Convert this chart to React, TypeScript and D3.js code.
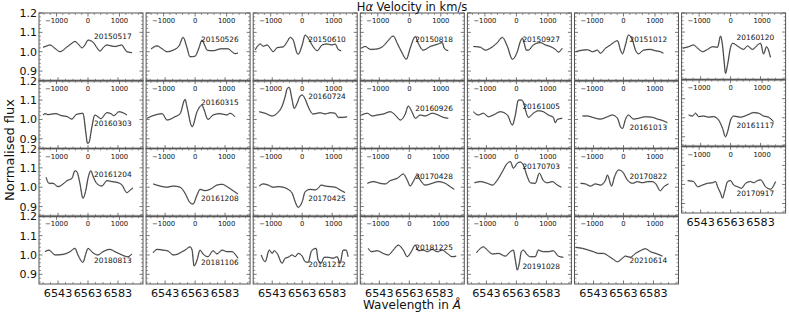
import React from "react";
import * as d3 from "d3";

type P = [number, number];

// wavelength (Å), normalised flux
const S20150517: P[] = [[6533.0,1.023],[6535.6,1.03],[6537.6,1.035],[6541.0,1.017],[6544.3,1.0],[6549.0,1.025],[6551.6,1.04],[6554.3,1.053],[6557.0,1.035],[6559.0,1.02],[6561.0,1.035],[6563.0,1.06],[6566.3,1.05],[6569.0,1.02],[6571.0,1.003],[6573.0,1.02],[6575.6,1.035],[6578.3,1.03],[6581.0,1.027],[6583.0,1.03],[6585.6,1.035],[6587.0,1.02],[6589.0,1.0],[6592.3,0.995]];
const S20150526: P[] = [[6533.6,1.014],[6537.6,1.03],[6541.0,1.015],[6544.3,1.0],[6548.3,1.008],[6552.3,1.03],[6555.0,1.074],[6557.6,1.02],[6559.6,0.974],[6563.0,0.977],[6565.6,1.02],[6567.6,1.06],[6569.6,1.03],[6571.0,1.008],[6575.0,1.005],[6580.3,1.015],[6585.0,1.015],[6587.6,1.0],[6589.6,0.99],[6591.6,0.993]];
const S20150610: P[] = [[6531.6,1.009],[6535.0,1.04],[6537.0,1.028],[6539.6,1.035],[6541.6,1.018],[6543.6,1.0],[6546.3,1.021],[6550.3,1.025],[6553.0,1.052],[6555.0,1.074],[6557.0,1.06],[6559.6,0.992],[6560.3,0.987],[6563.0,1.035],[6565.0,1.086],[6567.0,1.07],[6570.3,1.026],[6573.0,1.005],[6576.3,1.035],[6579.6,1.04],[6583.0,1.035],[6585.0,1.04],[6587.0,1.012],[6589.0,1.005]];
const S20150818: P[] = [[6531.0,1.018],[6533.6,1.027],[6537.0,1.012],[6540.3,1.013],[6545.0,1.025],[6548.3,1.052],[6552.3,1.081],[6555.0,1.043],[6558.3,0.992],[6561.0,0.961],[6563.6,1.018],[6567.0,1.078],[6569.0,1.043],[6572.3,1.008],[6577.0,1.027],[6581.6,1.038],[6585.0,1.047],[6586.3,1.018],[6589.0,1.005]];
const S20150927: P[] = [[6534.3,1.027],[6539.0,1.023],[6542.3,1.008],[6545.6,1.018],[6550.3,1.047],[6553.6,1.074],[6557.0,1.027],[6560.3,0.961],[6563.6,1.0],[6565.6,1.052],[6567.0,1.07],[6568.3,1.04],[6569.6,1.008],[6571.0,1.008],[6574.3,1.035],[6579.0,1.047],[6582.3,1.035],[6585.6,1.027],[6589.0,1.012],[6591.0,0.998],[6593.6,1.018]];
const S20151012: P[] = [[6531.0,1.0],[6535.6,1.008],[6539.0,1.01],[6542.3,1.0],[6545.6,1.008],[6547.6,0.992],[6551.0,1.018],[6554.3,1.035],[6556.3,1.047],[6559.0,1.057],[6561.0,1.008],[6562.3,0.989],[6564.3,1.035],[6566.3,1.086],[6569.0,1.06],[6571.0,1.008],[6573.0,0.989],[6576.3,1.008],[6581.0,1.012],[6584.3,1.005],[6587.6,1.0],[6589.6,0.992]];
const S20160120: P[] = [[6531.0,1.015],[6535.0,1.023],[6538.3,1.032],[6541.0,1.015],[6544.3,0.997],[6547.6,1.009],[6551.0,1.023],[6554.3,1.02],[6556.3,1.079],[6557.6,1.03],[6558.6,0.953],[6559.6,0.883],[6561.0,0.93],[6563.0,1.02],[6564.3,1.041],[6568.3,1.023],[6571.6,1.009],[6574.3,1.027],[6577.6,1.009],[6581.0,1.032],[6583.0,1.041],[6585.0,0.985],[6587.0,1.023],[6589.6,0.967]];
const S20160303: P[] = [[6533.0,1.023],[6534.3,1.03],[6536.3,1.025],[6539.0,1.028],[6541.6,1.03],[6545.0,1.02],[6549.0,1.015],[6552.3,1.002],[6555.0,1.025],[6557.6,1.03],[6559.6,1.032],[6561.6,0.93],[6562.6,0.877],[6563.6,0.88],[6565.6,0.962],[6567.6,1.023],[6570.3,1.01],[6571.6,1.004],[6575.6,1.035],[6578.3,1.03],[6580.3,1.02],[6583.6,1.04],[6586.3,1.035],[6589.0,1.023]];
const S20160315: P[] = [[6531.0,1.006],[6534.3,1.018],[6536.3,1.023],[6541.0,1.03],[6544.3,0.997],[6549.6,1.014],[6553.0,1.03],[6556.3,1.104],[6557.6,1.065],[6561.0,0.962],[6564.3,1.04],[6567.6,1.074],[6569.0,1.05],[6571.6,1.0],[6575.0,1.023],[6579.6,1.03],[6584.3,1.023],[6586.3,1.032],[6589.6,1.014]];
const S20160724: P[] = [[6534.3,1.04],[6538.3,1.032],[6543.0,1.018],[6546.3,1.032],[6549.6,1.069],[6551.6,1.117],[6553.0,1.16],[6554.3,1.166],[6556.3,1.1],[6557.6,1.057],[6559.6,1.083],[6561.6,1.121],[6563.0,1.126],[6565.0,1.105],[6567.0,1.066],[6570.3,1.028],[6575.0,1.035],[6578.3,1.028],[6581.6,1.035],[6585.0,1.032],[6587.0,1.011],[6590.3,1.011],[6593.0,1.014]];
const S20160926: P[] = [[6531.0,1.023],[6535.0,1.032],[6538.3,1.018],[6541.6,1.023],[6545.6,1.028],[6550.3,1.04],[6553.6,1.023],[6557.0,0.997],[6560.3,1.028],[6562.3,1.069],[6565.0,1.035],[6567.0,1.006],[6570.3,1.023],[6573.6,1.018],[6578.3,1.032],[6582.3,1.023],[6585.6,1.011],[6589.0,1.006]];
const S20161005: P[] = [[6534.3,1.04],[6537.6,1.023],[6541.0,1.032],[6544.3,1.014],[6547.6,1.023],[6552.3,1.04],[6557.0,1.023],[6560.3,0.971],[6562.3,1.023],[6564.3,1.1],[6566.3,1.1],[6567.6,1.09],[6569.0,1.05],[6571.0,1.011],[6574.3,1.032],[6577.6,1.045],[6581.0,1.04],[6584.3,1.023],[6587.6,1.011],[6589.0,0.983],[6590.3,1.0],[6593.6,1.006]];
const S20161013: P[] = [[6535.6,1.018],[6539.0,1.018],[6542.3,1.011],[6547.6,1.002],[6552.3,1.014],[6555.6,1.023],[6559.0,1.006],[6561.0,0.962],[6562.3,0.953],[6564.3,1.0],[6566.3,1.023],[6569.6,1.002],[6573.0,1.006],[6577.6,1.014],[6582.3,1.011],[6585.6,1.002],[6589.0,0.995],[6592.3,0.983]];
const S20161117: P[] = [[6535.0,1.015],[6537.6,1.009],[6539.6,1.024],[6541.6,1.006],[6545.0,1.009],[6548.3,1.003],[6551.6,1.006],[6555.0,0.988],[6557.6,0.945],[6559.6,0.9],[6561.0,0.927],[6563.0,0.988],[6565.0,1.009],[6569.6,1.003],[6574.3,1.015],[6578.3,1.027],[6581.6,1.024],[6585.0,1.009],[6588.3,1.003],[6591.6,0.98]];
const S20161204: P[] = [[6535.0,1.051],[6537.0,1.02],[6539.6,1.02],[6543.0,1.003],[6545.6,1.012],[6549.0,1.034],[6552.3,1.046],[6554.3,1.085],[6555.6,1.08],[6557.6,1.02],[6559.6,0.943],[6561.6,0.986],[6563.0,1.046],[6565.0,1.085],[6566.3,1.058],[6569.0,1.018],[6572.3,1.006],[6575.6,1.034],[6579.0,1.029],[6582.3,1.025],[6585.6,1.012],[6589.0,0.972],[6591.0,0.984],[6593.0,0.996]];
const S20161208: P[] = [[6535.0,1.017],[6539.6,1.006],[6544.3,1.0],[6548.3,1.006],[6553.0,1.0],[6556.3,0.969],[6559.6,0.92],[6561.6,0.913],[6564.3,0.96],[6566.3,0.989],[6569.6,0.982],[6573.0,0.989],[6577.6,1.011],[6581.0,1.015],[6584.3,1.003],[6588.3,0.982],[6591.6,0.965]];
const S20170425: P[] = [[6534.3,1.006],[6537.0,1.017],[6540.3,1.011],[6543.6,1.0],[6547.0,1.003],[6550.3,1.0],[6553.6,0.989],[6556.3,0.969],[6558.3,0.925],[6560.3,0.896],[6563.0,0.925],[6565.0,0.977],[6568.3,0.989],[6571.6,0.986],[6573.6,0.994],[6575.6,1.011],[6578.3,1.006],[6581.6,1.003],[6585.0,1.0],[6588.3,0.986],[6591.6,0.972]];
const S20170428: P[] = [[6535.0,1.02],[6539.0,1.029],[6543.6,1.02],[6547.0,1.017],[6550.3,1.034],[6555.0,1.046],[6559.0,1.068],[6561.6,1.037],[6563.6,1.006],[6565.6,1.029],[6568.3,1.063],[6570.3,1.037],[6573.6,1.011],[6578.3,1.02],[6582.3,1.029],[6587.0,1.02],[6590.3,1.003],[6593.0,0.989]];
const S20170703: P[] = [[6535.0,1.023],[6539.0,1.029],[6543.6,1.02],[6547.0,1.011],[6550.3,1.037],[6553.6,1.08],[6557.0,1.124],[6559.0,1.132],[6561.0,1.098],[6563.6,1.124],[6565.6,1.13],[6567.6,1.115],[6570.3,1.054],[6572.3,1.023],[6575.6,1.02],[6578.3,1.072],[6581.0,1.034],[6583.6,1.023],[6587.0,1.029],[6590.3,1.011],[6593.0,1.0]];
const S20170822: P[] = [[6534.3,1.02],[6537.6,1.017],[6541.0,1.006],[6544.3,1.017],[6547.6,1.011],[6551.0,1.037],[6552.3,1.063],[6555.0,1.006],[6557.0,1.054],[6559.6,1.089],[6562.3,1.08],[6565.6,1.037],[6569.0,1.02],[6572.3,1.029],[6575.6,1.023],[6579.0,1.029],[6582.3,1.029],[6584.3,1.02],[6587.6,0.982],[6589.6,1.0],[6593.0,1.017]];
const S20170917: P[] = [[6534.3,1.02],[6538.3,1.015],[6541.0,0.988],[6544.3,0.997],[6547.6,1.006],[6551.0,1.009],[6553.0,1.015],[6554.3,0.988],[6556.3,0.954],[6557.6,0.928],[6559.0,0.962],[6561.0,1.015],[6563.0,1.02],[6565.0,0.997],[6567.6,0.988],[6570.3,0.98],[6573.0,1.006],[6576.3,1.015],[6578.3,1.009],[6581.0,1.02],[6583.0,1.024],[6586.3,0.988],[6589.6,0.975],[6593.0,1.015]];
const S20180813: P[] = [[6534.3,1.017],[6537.0,1.025],[6541.0,1.0],[6546.3,1.003],[6551.0,1.017],[6554.3,1.034],[6556.3,1.0],[6559.6,0.962],[6561.6,1.008],[6563.0,1.034],[6566.3,1.011],[6569.6,1.0],[6573.0,1.017],[6577.6,1.029],[6581.0,1.017],[6584.3,1.005],[6587.6,0.994],[6589.6,0.991],[6592.3,1.005]];
const S20181106: P[] = [[6535.0,1.011],[6537.6,1.029],[6541.6,1.025],[6545.0,1.02],[6548.3,1.0],[6551.6,1.005],[6554.3,1.017],[6556.3,1.025],[6559.6,1.042],[6561.0,1.025],[6562.3,0.943],[6564.3,0.974],[6566.3,1.025],[6568.3,1.005],[6571.6,0.991],[6575.0,1.022],[6577.6,1.005],[6581.0,1.025],[6584.3,1.017],[6587.6,1.017],[6589.6,1.005],[6591.6,0.983]];
const S20181212: P[] = [[6535.6,1.0],[6538.3,0.965],[6541.0,1.025],[6543.0,1.008],[6544.3,1.022],[6546.3,1.008],[6549.6,0.957],[6551.6,0.983],[6553.6,0.988],[6556.3,1.0],[6558.3,0.991],[6560.3,1.008],[6563.0,0.994],[6565.0,0.965],[6567.0,0.962],[6569.0,1.017],[6570.3,1.029],[6572.3,1.034],[6573.6,0.974],[6575.6,0.957],[6577.6,0.988],[6580.3,0.988],[6583.6,0.983],[6586.3,0.991],[6588.3,0.957],[6590.3,1.025],[6592.3,1.025],[6593.6,0.991]];
const S20181225: P[] = [[6535.6,1.034],[6537.6,1.017],[6541.6,1.022],[6545.6,1.008],[6549.0,1.0],[6552.3,1.025],[6555.6,1.051],[6559.0,1.025],[6561.6,0.991],[6564.3,1.017],[6567.0,1.051],[6569.0,1.022],[6572.3,1.025],[6575.0,1.017],[6578.3,1.029],[6581.6,1.017],[6585.0,1.025],[6588.3,1.008],[6591.6,0.991],[6594.3,0.994]];
const S20191028: P[] = [[6536.3,1.011],[6539.0,1.034],[6541.0,1.042],[6543.6,1.025],[6547.0,1.005],[6551.0,1.008],[6555.6,0.994],[6559.0,1.017],[6561.0,1.025],[6562.3,0.974],[6563.6,0.922],[6565.0,0.96],[6566.3,1.017],[6567.6,1.025],[6570.3,1.0],[6572.3,0.991],[6575.6,0.991],[6577.6,1.025],[6581.0,1.017],[6584.3,1.017],[6587.6,1.022],[6591.0,0.994],[6594.3,0.988]];
const S20210614: P[] = [[6531.0,1.039],[6535.6,1.034],[6539.6,1.025],[6543.0,1.017],[6546.3,1.008],[6549.6,1.008],[6553.0,0.994],[6556.3,0.977],[6559.0,0.965],[6562.3,0.983],[6564.3,0.994],[6567.6,0.988],[6571.0,1.008],[6574.3,1.022],[6577.6,1.032],[6581.0,1.017],[6585.6,1.005],[6589.0,0.994]];

// panels in reading order (4 rows x 7 columns, last one empty)
const DATES = [
  "20150517","20150526","20150610","20150818","20150927","20151012","20160120",
  "20160303","20160315","20160724","20160926","20161005","20161013","20161117",
  "20161204","20161208","20170425","20170428","20170703","20170822","20170917",
  "20180813","20181106","20181212","20181225","20191028","20210614",
];
const SPECTRA: P[][] = [
  S20150517,S20150526,S20150610,S20150818,S20150927,S20151012,S20160120,
  S20160303,S20160315,S20160724,S20160926,S20161005,S20161013,S20161117,
  S20161204,S20161208,S20170425,S20170428,S20170703,S20170822,S20170917,
  S20180813,S20181106,S20181212,S20181225,S20191028,S20210614,
];
// flux level at which each date label sits
const LABEL_FLUX = [
  1.078,1.064,1.064,1.064,1.064,1.064,1.072,
  0.98,1.086,1.117,1.057,1.069,0.959,0.962,
  1.068,0.943,0.943,1.058,1.106,1.058,0.954,
  0.974,0.96,0.953,1.039,0.943,0.974,
];
const LABEL_WL = 6567.0;

const WL_DOMAIN: [number, number] = [6530.3, 6599.7];
const VEL_DOMAIN: [number, number] = [-1556, 1746];
const FLUX_DOMAIN: [number, number] = [0.85, 1.2];
const WL_TICKS = [6543, 6563, 6583];
const VEL_TICKS = [-1000, 0, 1000];
const FLUX_TICKS = [0.9, 1.0, 1.1, 1.2];
const WL_MINOR = d3.range(6533, 6599, 5).filter((v) => !WL_TICKS.includes(v));
const VEL_MINOR = d3.range(-1400, 1700, 200).filter((v) => v % 1000 !== 0);
const FLUX_MINOR = d3.range(0.86, 1.2, 0.02).map((v) => +v.toFixed(2)).filter((v) => Math.abs(v * 10 - Math.round(v * 10)) > 1e-6);

const W = 789, H = 316;
const FONT = "DejaVu Sans, sans-serif";
const LEFT0 = 39, COLSTEP = 107.1, PW = 104;
const TOP0 = 13, ROWH = 67.75;
const COL7_BOTTOM = 213;

function Panel({ i }: { i: number }) {
  const row = Math.floor(i / 7), col = i % 7;
  const L = LEFT0 + col * COLSTEP;
  let T: number, B: number;
  if (col === 6) {
    const h = (COL7_BOTTOM - TOP0) / 3;
    T = TOP0 + row * h; B = T + h;
  } else {
    T = TOP0 + row * ROWH; B = T + ROWH;
  }
  const x = d3.scaleLinear().domain(WL_DOMAIN).range([L, L + PW]);
  const v = d3.scaleLinear().domain(VEL_DOMAIN).range([L, L + PW]);
  const y = d3.scaleLinear().domain(FLUX_DOMAIN).range([B, T]);
  const line = d3.line<P>().x((d) => x(d[0])).y((d) => y(d[1])).curve(d3.curveMonotoneX);
  const path = line(SPECTRA[i]) || "";
  const isBottom = row === 3 || (col === 6 && row === 2);
  const hasBelow = !isBottom;
  const stroke = "#555";
  const fmtF = d3.format(".1f");
  const fmtV = d3.format("d");
  return (
    <g>
      {hasBelow && <rect x={L - 0.5} y={B - 1.5} width={PW + 1} height={3} fill="#bdbdbd" />}
      <path d={path} fill="none" stroke="#c4c4c4" strokeWidth={1.6} strokeLinejoin="round" />
      <path d={path} fill="none" stroke="#222" strokeWidth={0.85} strokeLinejoin="round" />
      <rect x={L} y={T} width={PW} height={B - T} fill="none" stroke={stroke} strokeWidth={1} />
      {VEL_TICKS.map((t) => (
        <line key={"vt" + t} x1={v(t)} x2={v(t)} y1={T} y2={T + 3.5} stroke={stroke} strokeWidth={0.8} />
      ))}
      {VEL_MINOR.map((t) => (
        <line key={"vm" + t} x1={v(t)} x2={v(t)} y1={T} y2={T + 2} stroke={stroke} strokeWidth={0.6} />
      ))}
      {VEL_TICKS.map((t) => (
        <text key={"vl" + t} x={v(t)} y={T + 10.2} fontSize={6.8} textAnchor="middle" fontFamily={FONT} fill="#111">
          {fmtV(t)}
        </text>
      ))}
      {WL_TICKS.map((t) => (
        <line key={"wt" + t} x1={x(t)} x2={x(t)} y1={B} y2={B - 3.5} stroke={stroke} strokeWidth={0.8} />
      ))}
      {WL_MINOR.map((t) => (
        <line key={"wm" + t} x1={x(t)} x2={x(t)} y1={B} y2={B - 2} stroke={stroke} strokeWidth={0.6} />
      ))}
      {isBottom && WL_TICKS.map((t) => (
        <text key={"wl" + t} x={x(t)} y={B + 12.5} fontSize={11.2} textAnchor="middle" fontFamily={FONT} fill="#111">
          {t}
        </text>
      ))}
      {FLUX_TICKS.map((t) => (
        <g key={"ft" + t}>
          <line x1={L} x2={L + 3.5} y1={y(t)} y2={y(t)} stroke={stroke} strokeWidth={0.8} />
          <line x1={L + PW} x2={L + PW - 3.5} y1={y(t)} y2={y(t)} stroke={stroke} strokeWidth={0.8} />
        </g>
      ))}
      {FLUX_MINOR.map((t) => (
        <g key={"fm" + t}>
          <line x1={L} x2={L + 2} y1={y(t)} y2={y(t)} stroke={stroke} strokeWidth={0.6} />
          <line x1={L + PW} x2={L + PW - 2} y1={y(t)} y2={y(t)} stroke={stroke} strokeWidth={0.6} />
        </g>
      ))}
      {col === 0 && FLUX_TICKS.map((t) => (
        <text key={"fl" + t} x={L - 2} y={y(t) + 4} fontSize={11} textAnchor="end" fontFamily={FONT} fill="#111">
          {fmtF(t)}
        </text>
      ))}
      <text x={x(LABEL_WL)} y={y(LABEL_FLUX[i]) + 2.6} fontSize={7.4} fontFamily={FONT} fill="#111">
        {DATES[i]}
      </text>
    </g>
  );
}

export default function App() {
  return (
    <svg width={W} height={H} style={{ position: "absolute", left: 0, top: 0, background: "#fff" }}>
      <rect x={0} y={0} width={W} height={H} fill="#fff" />
      {DATES.map((_, i) => <Panel key={i} i={i} />)}
      <text x={412} y={11} fontSize={11.5} textAnchor="middle" fontFamily={FONT} fill="#111">
        H<tspan fontStyle="italic">α</tspan>{"  Velocity in km/s"}
      </text>
      <text x={412} y={309} fontSize={12} textAnchor="middle" fontFamily={FONT} fill="#111">
        {"Wavelength in "}<tspan fontStyle="italic">Å</tspan>
      </text>
      <text transform="translate(14,150) rotate(-90)" fontSize={13} textAnchor="middle" fontFamily={FONT} fill="#111">
        Normalised flux
      </text>
    </svg>
  );
}
